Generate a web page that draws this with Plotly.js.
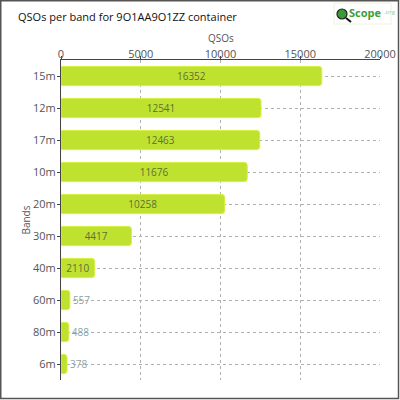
<!DOCTYPE html>
<html><head><meta charset="utf-8">
<script src="https://cdn.plot.ly/plotly-3.0.1.min.js"></script>
<style>html,body{margin:0;padding:0;background:#fff}#c{width:400px;height:400px}</style>
</head><body><div id="c"></div>
<script>
const bands = ["15m","12m","17m","10m","20m","30m","40m","60m","80m","6m"];
const qsos = [16352,12541,12463,11676,10258,4417,2110,557,488,378];
const xTicks = [0,5000,10000,15000,20000];
const xTitle = 'QSOs';

const L=61,R=20,T=60,B=20,W=400,H=400;
const pw=W-L-R, ph=H-T-B;
const px = v => v/pw, py = v => v/ph;

const trace = {
  type:'bar', orientation:'h',
  y: bands, x: qsos,
  text: qsos.map(String),
  textposition:'auto',
  insidetextanchor:'middle',
  textangle:0,
  constraintext:'none',
  insidetextfont:{family:'Open Sans, sans-serif', size:10, color:'#5f6e35'},
  outsidetextfont:{family:'Open Sans, sans-serif', size:10, color:'#8aa3a3'},
  marker:{color:'#bfe231', line:{color:'#d6f03c', width:1}, cornerradius:3},
  width:0.6,
  cliponaxis:false,
  hoverinfo:'none'
};

const layout = {
  width:W, height:H,
  margin:{l:L,r:R,t:T,b:B,pad:0},
  paper_bgcolor:'#fff', plot_bgcolor:'#fff',
  showlegend:false,
  font:{family:'Open Sans, sans-serif', color:'#555'},
  title:{text:'QSOs per band for 9O1AA9O1ZZ container', x:18/W, xanchor:'left', y:1-17/H, yanchor:'middle',
         font:{family:'Open Sans, sans-serif', size:11, color:'#111'}},
  xaxis:{
    side:'top', range:[0,20000], tickvals:xTicks, ticktext:xTicks.map(String),
    showgrid:true, gridcolor:'#b0b0b0', griddash:'3px,3px', gridwidth:1,
    showline:true, linecolor:'#444', linewidth:1,
    ticks:'outside', ticklen:3, tickcolor:'#444',
    ticklabelstandoff:-6,
    zeroline:false,
    tickfont:{size:11,color:'#555'}
  },
  yaxis:{
    autorange:'reversed', categoryorder:'array', categoryarray:bands,
    showgrid:true, gridcolor:'#b0b0b0', griddash:'3px,3px', gridwidth:1,
    showline:true, linecolor:'#444', linewidth:1,
    ticks:'outside', ticklen:3, tickcolor:'#444',
    ticklabelstandoff:-1,
    tickfont:{size:11,color:'#555'},
    title:{text:'Bands', standoff:0, font:{size:10,color:'#555'}}
  },
  shapes:[
    {type:'rect', xref:'paper', yref:'paper',
     x0:px(-L+0.75), x1:px(pw+R-1.5), y0:py(-B+1.5), y1:py(ph+T-0.75),
     line:{color:'#555', width:1.5}, layer:'below'},
    {type:'rect', xref:'paper', yref:'paper',
     x0:px(334-L), x1:px(391-L), y0:py(ph+T-24), y1:py(ph+T-3),
     line:{color:'#eef3d8', width:1}, fillcolor:'#fff', layer:'below'},
    {type:'circle', xref:'paper', yref:'paper',
     x0:px(337-L), x1:px(347-L), y0:py(ph+T-19), y1:py(ph+T-9),
     fillcolor:'#3a9a3a', line:{color:'#222', width:1.2}},
    {type:'line', xref:'paper', yref:'paper',
     x0:px(346-L), x1:px(351-L), y0:py(ph+T-18), y1:py(ph+T-22),
     line:{color:'#111', width:2}}
  ],
  annotations:[
    {xref:'paper', yref:'paper', x:0.5, y:py(ph+22), xanchor:'center', yanchor:'middle',
     text:xTitle, showarrow:false, font:{family:'Open Sans, sans-serif', size:10, color:'#555'}},
    {xref:'paper', yref:'paper', x:px(347-L), y:py(ph+T-13), xanchor:'left', yanchor:'middle',
     text:'<b>Scope</b>', showarrow:false, font:{family:'Open Sans, sans-serif', size:11, color:'#3aa03a'}},
    {xref:'paper', yref:'paper', x:px(382-L), y:py(ph+T-12), xanchor:'left', yanchor:'middle',
     text:'.org', showarrow:false, font:{family:'Open Sans, sans-serif', size:6, color:'#8fd08f'}}
  ]
};

Plotly.newPlot('c',[trace],layout,{displayModeBar:false,staticPlot:true});
</script></body></html>
